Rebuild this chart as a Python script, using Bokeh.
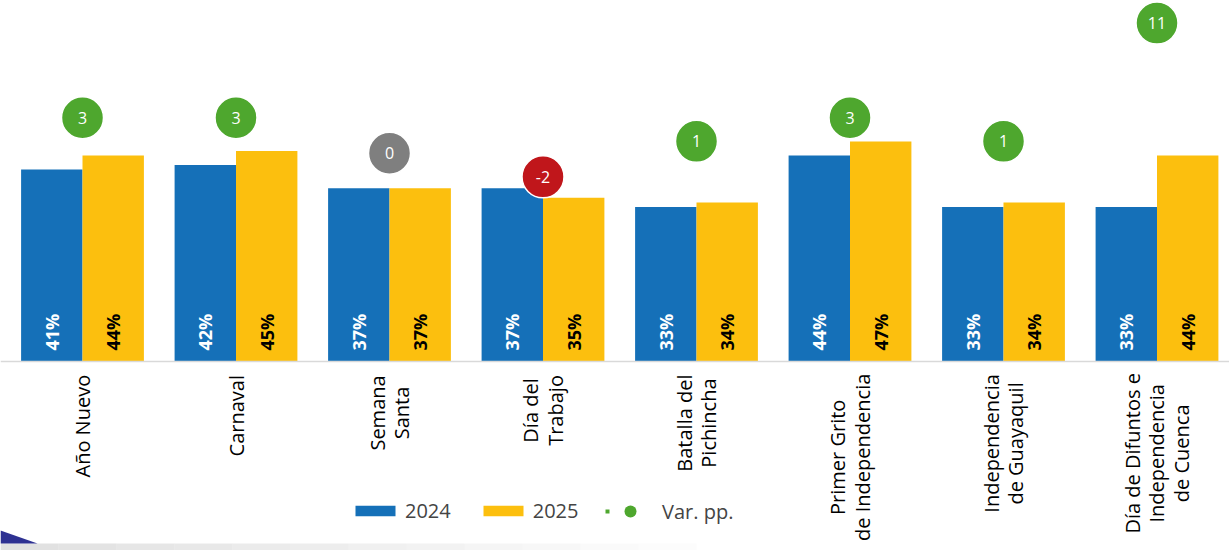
import math
from bokeh.plotting import figure
from bokeh.models import Range1d, Span, Legend, LegendItem, ColumnDataSource, BoxAnnotation, PolyAnnotation
from bokeh.core.properties import value
from bokeh.embed import file_html
from bokeh.resources import INLINE

# ---------------- data ----------------
categories = ["Año Nuevo", "Carnaval", "Semana\nSanta", "Día del\nTrabajo",
              "Batalla del\nPichincha", "Primer Grito\nde Independencia",
              "Independencia\nde Guayaquil", "Día de Difuntos e\nIndependencia\nde Cuenca"]
series_names = ["2024", "2025"]
v2024 = [41, 42, 37, 37, 33, 44, 33, 33]
v2025 = [44, 45, 37, 35, 34, 47, 34, 44]
var_pp = [3, 3, 0, -2, 1, 3, 1, 11]
var_name = "Var. pp."

# ---------------- layout / style ----------------
W, H = 1229, 550
PX_X = 153.5            # px per category
PX_Y = 4.68             # px per percentage point (bars)
PX_V = 11.83            # px per pp (variation circles)
x_start = -82 / PX_X
y_top = 361 / PX_Y
v_top = 152.7 / PX_V

BLUE = "#1570B8"
YELLOW = "#FCBF0E"
GREEN = "#4EA72E"
GREY = "#7F7F7F"
RED = "#C0161B"
FONT = "Open Sans"
NAN = float("nan")

p = figure(width=W, height=H, output_backend="svg", toolbar_location=None,
           x_range=Range1d(x_start, x_start + W / PX_X),
           y_range=Range1d(y_top - H / PX_Y, y_top),
           x_axis_location=None, y_axis_location=None, min_border=0)
p.extra_y_ranges = {"var": Range1d(v_top - H / PX_V, v_top)}
p.grid.visible = False
p.outline_line_color = None
p.background_fill_color = "white"

n = len(categories)
idx = list(range(n))
bw = 0.4
x24 = [i - bw / 2 for i in idx]
x25 = [i + bw / 2 for i in idx]

# baseline
p.add_layout(Span(location=0, dimension="width", line_color="#D9D9D9", line_width=1.5))

r24 = p.vbar(x=x24, top=v2024, bottom=0, width=bw, fill_color=BLUE, line_color=None)
r25 = p.vbar(x=x25, top=v2025, bottom=0, width=bw, fill_color=YELLOW, line_color=None)

# bar value labels
p.text(x=x24, y=[0] * n, text=[f"{v}%" for v in v2024], angle=math.pi / 2,
       text_align="left", text_baseline="middle", y_offset=-11,
       text_font=value(FONT), text_font_style="bold", text_font_size="18px", text_color="white")
p.text(x=x25, y=[0] * n, text=[f"{v}%" for v in v2025], angle=math.pi / 2,
       text_align="left", text_baseline="middle", y_offset=-11,
       text_font=value(FONT), text_font_style="bold", text_font_size="18px", text_color="black")

# variation circles
vcol = [GREEN if v > 0 else (RED if v < 0 else GREY) for v in var_pp]
p.scatter(x=idx, y=var_pp, y_range_name="var", size=42, marker="circle",
          fill_color=vcol, line_color="white", line_width=1.5)
p.text(x=idx, y=var_pp, y_range_name="var", text=[str(v) for v in var_pp],
       text_align="center", text_baseline="middle", text_font=value(FONT),
       text_font_size="16px", text_color="white")

# category labels (rotated, centred lines)
CW = {'i': .24, 'l': .24, 'í': .24, 'j': .24, 'I': .28, ' ': .26, 'r': .38, 't': .33, 'f': .32,
      'm': .92, 'M': .9, 'ñ': .61, 'n': .61, 'A': .63, 'N': .75, 'G': .71, 'C': .63, 'D': .71,
      'B': .64, 'P': .6, 'S': .55, 'T': .55, 'a': .56, 'e': .56, 'o': .6, 'u': .61, 'v': .5,
      'y': .5, 's': .48, 'c': .48, 'd': .61, 'b': .61, 'p': .61, 'q': .61, 'h': .61, 'g': .54,
      'k': .52}
FS = 20
def est_len(s):
    return max(sum(CW.get(ch, .56) for ch in line) for line in s.split("\n")) * FS * 0.97
cat_src = ColumnDataSource(dict(x=idx, y=[0] * n, text=categories,
                                yo=[15 + est_len(c) / 2 for c in categories]))
p.text(x="x", y="y", text="text", y_offset="yo", source=cat_src, angle=math.pi / 2,
       text_align="center", text_baseline="middle", text_font=value(FONT),
       text_font_size=f"{FS}px", text_color="black", text_line_height=0.9)

# legend helpers (renderers with no visible points, used only for the legend)
leg_dot_small = p.line(x=[NAN, NAN], y=[NAN, NAN], line_color=GREEN, line_width=4,
                       line_dash="4 100", line_cap="butt")
leg_dot_big = p.scatter(x=[NAN], y=[NAN], marker="circle", fill_color=GREEN, line_color=None)

leg1 = Legend(items=[LegendItem(label=series_names[0], renderers=[r24]),
                     LegendItem(label=series_names[1], renderers=[r25])],
              orientation="horizontal", location=(350, 26), padding=0, margin=0,
              spacing=27, glyph_width=50, glyph_height=13, label_standoff=5,
              label_text_font=FONT, label_text_font_size="20px",
              border_line_color=None, background_fill_alpha=0)
leg2 = Legend(items=[LegendItem(label=var_name, renderers=[leg_dot_small, leg_dot_big])],
              orientation="horizontal", location=(605, 24), padding=0, margin=0,
              glyph_width=50, glyph_height=30, label_standoff=7,
              label_text_font=FONT, label_text_font_size="20px",
              border_line_color=None, background_fill_alpha=0)
p.add_layout(leg1)
p.add_layout(leg2)

# slide decoration at the bottom
yb = p.y_range.start
for k in range(12):
    a = 0.55 * (1 - k / 12)
    p.add_layout(BoxAnnotation(left=x_start + k * 58 / PX_X, right=x_start + (k + 1) * 58 / PX_X,
                               bottom=yb, top=yb + 7 / PX_Y, fill_color="#C8C8C8",
                               fill_alpha=a, line_color=None))
p.add_layout(PolyAnnotation(xs=[x_start, x_start, x_start + 37 / PX_X],
                            ys=[yb + 7 / PX_Y, yb + 20 / PX_Y, yb + 7 / PX_Y],
                            fill_color="#2E3192", fill_alpha=1, line_color=None))

open("out.html", "w").write(file_html(p, INLINE))
